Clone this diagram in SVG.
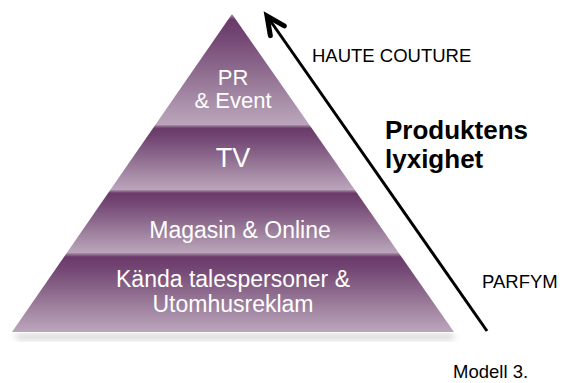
<svg xmlns="http://www.w3.org/2000/svg" width="563" height="383" viewBox="0 0 563 383">
<style>
.lbl{font-family:"Liberation Sans",Arial,sans-serif;fill:#ffffff;text-anchor:middle;font-size:23px}
.side{font-family:"Liberation Sans",Arial,sans-serif;fill:#000000;font-size:18.5px}
.bold{font-family:"Liberation Sans",Arial,sans-serif;fill:#000000;font-size:26px;font-weight:bold}
.band{fill:url(#g);filter:url(#soft)}
</style>
<defs>
<linearGradient id="g" x1="0" y1="0" x2="0" y2="1">
<stop offset="0" stop-color="#a990a9"/>
<stop offset="0.05" stop-color="#6a3a69"/>
<stop offset="0.2" stop-color="#734673"/>
<stop offset="0.6" stop-color="#967796"/>
<stop offset="0.9" stop-color="#b39bb3"/>
<stop offset="1" stop-color="#bba5bb"/>
</linearGradient>
<filter id="soft" x="-5%" y="-5%" width="110%" height="110%">
<feGaussianBlur stdDeviation="0.7"/>
</filter>
<filter id="shadow" x="-10%" y="-10%" width="120%" height="130%">
<feGaussianBlur stdDeviation="3"/>
</filter>
<marker id="head" markerUnits="userSpaceOnUse" markerWidth="30" markerHeight="30" viewBox="-24 -15 30 30" refX="0" refY="0" orient="auto">
<path d="M-18,-8.5 L0,0 L-18,8.5" fill="none" stroke="#000" stroke-width="5" stroke-linecap="round" stroke-linejoin="miter"/>
</marker>
</defs>
<polygon points="14,334 456,334 452,340 18,340" fill="#888" opacity="0.35" filter="url(#shadow)"/>
<g id="band-pr">
<polygon class="band" points="232,14 309.5,125 155.2,125"/>
<text class="lbl" x="233" y="85" style="font-size:22px">PR</text>
<text class="lbl" x="233" y="108" style="font-size:22px">&amp; Event</text>
</g>
<g id="band-tv">
<polygon class="band" points="155.2,125 309.5,125 354.9,190 110.2,190"/>
<text class="lbl" x="233" y="167" style="font-size:27px">TV</text>
</g>
<g id="band-magasin">
<polygon class="band" points="110.2,190 354.9,190 398.8,253 66.7,253"/>
<text class="lbl" x="240" y="238">Magasin &amp; Online</text>
</g>
<g id="band-kanda">
<polygon class="band" points="66.7,253 398.8,253 454,332 12,332"/>
<text class="lbl" x="233" y="287">Kända talespersoner &amp;</text>
<text class="lbl" x="233" y="312">Utomhusreklam</text>
</g>
<g id="connectors">
<line x1="487" y1="331" x2="267" y2="16" stroke="#000" stroke-width="3" marker-end="url(#head)"/>
</g>
<g id="labels">
<text class="side" x="312" y="62">HAUTE COUTURE</text>
<text class="bold" x="385" y="139">Produktens</text>
<text class="bold" x="385" y="168">lyxighet</text>
<text class="side" x="482" y="288">PARFYM</text>
<text class="side" x="453" y="378">Modell 3.</text>
</g>
</svg>
